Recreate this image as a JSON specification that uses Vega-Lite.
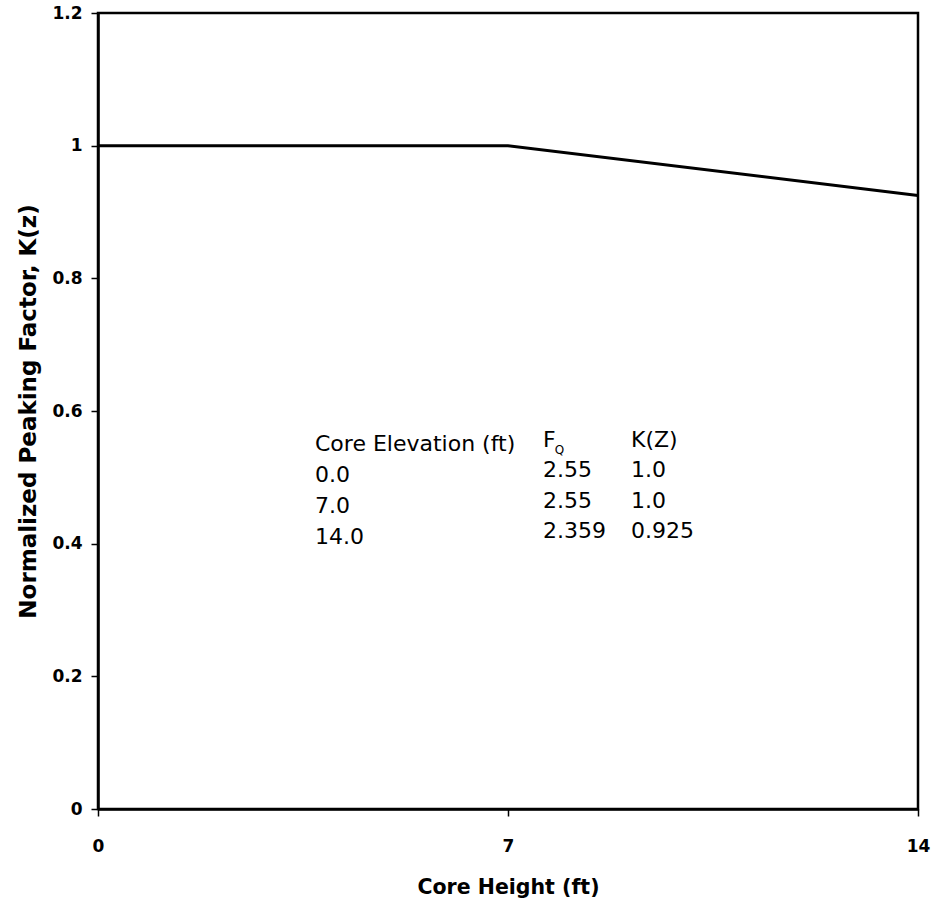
{
  "$schema": "https://vega.github.io/schema/vega-lite/v6.json",
  "width": 820,
  "height": 796,
  "autosize": {"type": "none"},
  "padding": {"left": 98, "top": 13, "right": 23, "bottom": 97},
  "background": "white",
  "config": {
    "view": {"stroke": "black", "strokeWidth": 2.5},
    "axis": {
      "grid": false,
      "domainColor": "black",
      "domainWidth": 2.5,
      "tickColor": "black",
      "tickWidth": 1.5,
      "tickSize": 7,
      "labelFont": "DejaVu Sans",
      "labelFontWeight": "bold",
      "labelFontSize": 17,
      "labelColor": "black",
      "titleFont": "DejaVu Sans",
      "titleFontWeight": "bold",
      "titleColor": "black"
    }
  },
  "datasets": {
    "kz": [
      {"core_height": 0, "k": 1.0},
      {"core_height": 7, "k": 1.0},
      {"core_height": 14, "k": 0.925}
    ]
  },
  "layer": [
    {
      "data": {"name": "kz"},
      "mark": {"type": "line", "color": "black", "strokeWidth": 3},
      "encoding": {
        "x": {
          "field": "core_height",
          "type": "quantitative",
          "scale": {"domain": [0, 14], "nice": false},
          "axis": {
            "values": [0, 7, 14],
            "format": "~g",
            "title": "Core Height (ft)",
            "titleFontSize": 20.5,
            "labelPadding": 22,
            "titlePadding": 23,
            "labelFlush": false
          }
        },
        "y": {
          "field": "k",
          "type": "quantitative",
          "scale": {"domain": [0, 1.2], "nice": false},
          "axis": {
            "values": [0, 0.2, 0.4, 0.6, 0.8, 1, 1.2],
            "format": "~g",
            "title": "Normalized Peaking Factor, K(z)",
            "titleFontSize": 23,
            "labelPadding": 9,
            "titlePadding": 11,
            "labelFlush": false
          }
        }
      }
    },
    {
      "data": {"values": [{"t": "Core Elevation (ft)\n0.0\n7.0\n14.0"}]},
      "mark": {"type": "text", "font": "DejaVu Sans", "fontSize": 22, "align": "left", "baseline": "top", "lineBreak": "\n", "lineHeight": 31, "color": "black"},
      "encoding": {
        "x": {"datum": 3.705, "type": "quantitative"},
        "y": {"datum": 0.5648, "type": "quantitative"},
        "text": {"field": "t"}
      }
    },
    {
      "data": {"values": [{"t": "F\n2.55\n2.55\n2.359"}]},
      "mark": {"type": "text", "font": "DejaVu Sans", "fontSize": 22, "align": "left", "baseline": "top", "lineBreak": "\n", "lineHeight": 30.5, "color": "black"},
      "encoding": {
        "x": {"datum": 7.598, "type": "quantitative"},
        "y": {"datum": 0.5714, "type": "quantitative"},
        "text": {"field": "t"}
      }
    },
    {
      "data": {"values": [{"t": "Q"}]},
      "mark": {"type": "text", "font": "DejaVu Sans", "fontSize": 12, "align": "left", "baseline": "middle", "color": "black"},
      "encoding": {
        "x": {"datum": 7.80, "type": "quantitative"},
        "y": {"datum": 0.541, "type": "quantitative"},
        "text": {"field": "t"}
      }
    },
    {
      "data": {"values": [{"t": "K(Z)\n1.0\n1.0\n0.925"}]},
      "mark": {"type": "text", "font": "DejaVu Sans", "fontSize": 22, "align": "left", "baseline": "top", "lineBreak": "\n", "lineHeight": 30.5, "color": "black"},
      "encoding": {
        "x": {"datum": 9.1, "type": "quantitative"},
        "y": {"datum": 0.5714, "type": "quantitative"},
        "text": {"field": "t"}
      }
    }
  ]
}
